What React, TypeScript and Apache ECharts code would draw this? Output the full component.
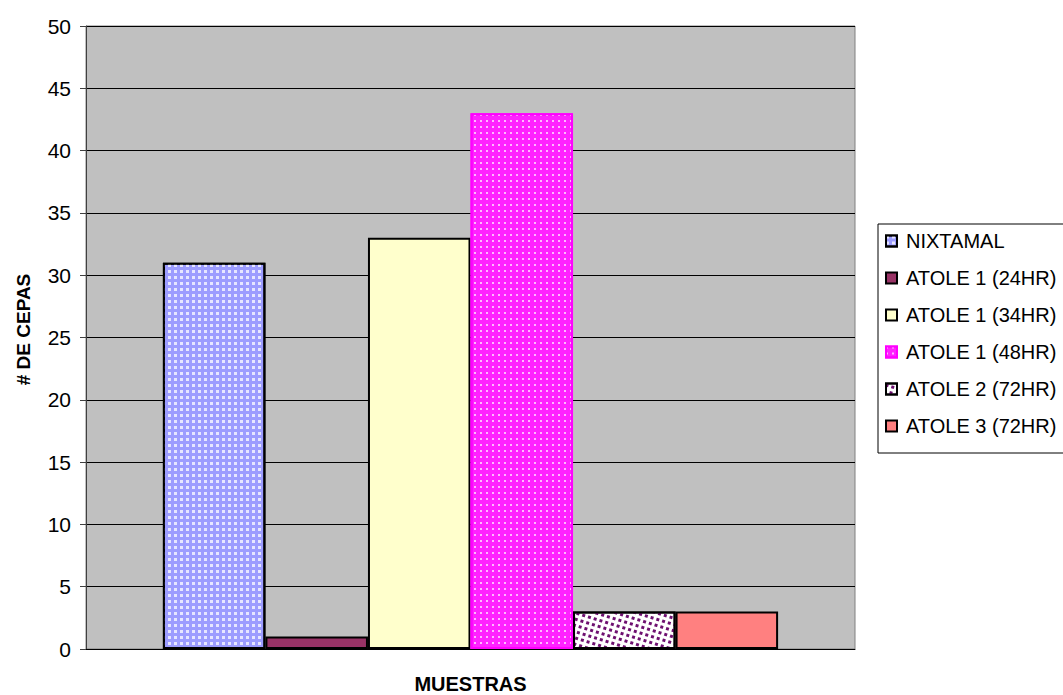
import React, { useEffect, useRef } from "react";
import * as echarts from "echarts";

const categories = ["MUESTRAS"];
const seriesNames = [
  "NIXTAMAL",
  "ATOLE 1 (24HR)",
  "ATOLE 1 (34HR)",
  "ATOLE 1 (48HR)",
  "ATOLE 2 (72HR)",
  "ATOLE 3 (72HR)",
];
const seriesValues = [31, 1, 33, 43, 3, 3];
const yTicks = { min: 0, max: 50, interval: 5 };

const FONT = "'Liberation Sans', Arial, sans-serif";

const styles: any[] = [
  {
    color: "#9C9CFF",
    borderColor: "#000000",
    decal: {
      symbol: "rect",
      symbolSize: 1,
      color: "rgba(255,255,255,0.75)",
      dashArrayX: [3, 3],
      dashArrayY: [3, 3],
    },
  },
  { color: "#993366", borderColor: "#000000" },
  { color: "#FFFFCC", borderColor: "#000000" },
  {
    color: "#FF22FF",
    borderColor: "#FF00FF",
    decal: {
      symbol: "rect",
      symbolSize: 1,
      color: "rgba(255,220,255,0.8)",
      dashArrayX: [2, 4],
      dashArrayY: [2, 4],
    },
  },
  {
    color: "#FFFFFF",
    borderColor: "#000000",
    decal: {
      symbol: "rect",
      symbolSize: 1,
      color: "#6E1070",
      dashArrayX: [3, 3],
      dashArrayY: [3, 3],
      rotation: 0.3,
    },
  },
  { color: "#FF8080", borderColor: "#000000" },
];

export default function App() {
  const ref = useRef<HTMLDivElement>(null);

  useEffect(() => {
    if (!ref.current) return;
    const chart = echarts.init(ref.current, null, { renderer: "svg" });
    chart.setOption({
      animation: false,
      textStyle: { fontFamily: FONT },
      grid: {
        left: 86,
        top: 26,
        right: 208,
        bottom: 46,
        outerBoundsMode: "none",
        containLabel: false,
        show: true,
        backgroundColor: "#C0C0C0",
        borderColor: "#808080",
        borderWidth: 1,
      },
      legend: {
        orient: "vertical",
        left: 878,
        top: 224,
        width: 220,
        padding: [7, 30, 17, 7],
        itemGap: 17,
        itemWidth: 11,
        itemHeight: 11,
        icon: "rect",
        borderColor: "#000000",
        borderWidth: 1,
        backgroundColor: "#FFFFFF",
        textStyle: {
          fontSize: 20,
          color: "#000000",
          fontFamily: FONT,
          padding: [0, 0, 0, 4],
        },
        data: seriesNames,
      },
      xAxis: {
        type: "category",
        data: categories,
        name: "MUESTRAS",
        nameLocation: "middle",
        nameGap: 25,
        nameTextStyle: {
          fontSize: 20,
          fontWeight: "bold",
          color: "#000000",
          verticalAlign: "top",
        },
        axisLabel: { show: false },
        axisTick: { show: false },
        axisLine: { lineStyle: { color: "#000000", width: 1 } },
      },
      yAxis: {
        type: "value",
        min: yTicks.min,
        max: yTicks.max,
        interval: yTicks.interval,
        name: "# DE CEPAS",
        nameLocation: "middle",
        nameGap: 53,
        nameTextStyle: {
          fontSize: 19,
          fontWeight: "bold",
          color: "#000000",
          padding: [0, 0, 0, 16],
        },
        axisLine: { show: true, lineStyle: { color: "#404040", width: 1 } },
        axisTick: { show: true, length: 6, lineStyle: { color: "#404040" } },
        axisLabel: { fontSize: 21, color: "#000000", margin: 15 },
        splitLine: { show: true, lineStyle: { color: "#000000", width: 1 } },
      },
      series: seriesNames.map((name, i) => ({
        type: "bar",
        name,
        data: [seriesValues[i]],
        barGap: "0%",
        barCategoryGap: "20%",
        itemStyle: { ...styles[i], borderWidth: 2 },
      })),
    });
    return () => chart.dispose();
  }, []);

  return (
    <div
      ref={ref}
      style={{
        position: "absolute",
        left: 0,
        top: 0,
        width: 1063,
        height: 695,
        background: "#FFFFFF",
      }}
    />
  );
}
